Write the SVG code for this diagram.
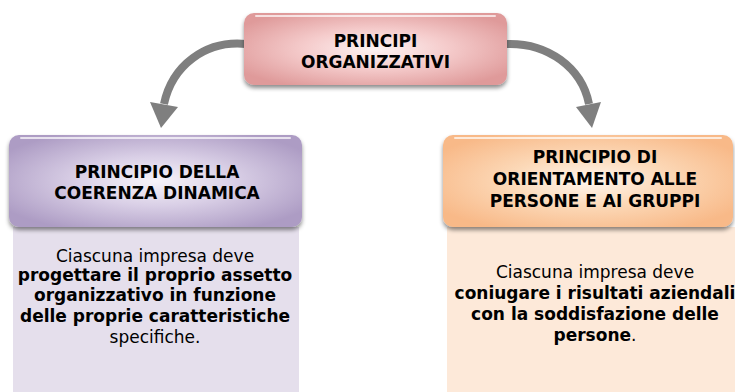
<svg xmlns="http://www.w3.org/2000/svg" width="735" height="392" viewBox="0 0 735 392">
<style>
.h{font-family:"DejaVu Sans","Verdana",sans-serif;font-weight:bold;font-size:17px;fill:#000;text-anchor:middle}
.t{font-family:"DejaVu Sans","Verdana",sans-serif;font-size:17px;fill:#000;text-anchor:middle}
.b{font-weight:bold}
.arr{fill:none;stroke:#7f7f7f;stroke-width:8}
.hl{fill:none;stroke:#ffffff;stroke-opacity:0.7;stroke-width:2;stroke-linecap:round}
</style>
<defs>
<radialGradient id="gPink" cx="0.5" cy="0.5" r="0.6">
<stop offset="0" stop-color="#fdf3f3"/><stop offset="0.45" stop-color="#f5cccc"/><stop offset="1" stop-color="#df9a9a"/>
</radialGradient>
<radialGradient id="gPurple" cx="0.5" cy="0.5" r="0.6">
<stop offset="0" stop-color="#f6f3f9"/><stop offset="0.45" stop-color="#d9cfe6"/><stop offset="1" stop-color="#ad9cc4"/>
</radialGradient>
<radialGradient id="gOrange" cx="0.5" cy="0.5" r="0.6">
<stop offset="0" stop-color="#fff6ee"/><stop offset="0.45" stop-color="#fcd9b8"/><stop offset="1" stop-color="#f8b988"/>
</radialGradient>
<filter id="sh" x="-10%" y="-10%" width="120%" height="130%">
<feDropShadow dx="0" dy="3" stdDeviation="2" flood-color="#000" flood-opacity="0.45"/>
</filter>
</defs>

<g id="connectors">
<path class="arr" d="M246 44 C205 40 172 66 164 104"/>
<polygon points="150,102 178,107 161,128" fill="#7f7f7f"/>
<path class="arr" d="M505 44 C548 42 582 68 589 104"/>
<polygon points="576,107 601,102 592,128" fill="#7f7f7f"/>
</g>

<g id="top">
<rect x="244" y="13" width="263" height="72" rx="10" fill="url(#gPink)" filter="url(#sh)"/>
<path class="hl" d="M256 16 H495"/>
<text class="h" x="375.5" y="47">PRINCIPI</text>
<text class="h" x="375.5" y="68">ORGANIZZATIVI</text>
</g>

<g id="left">
<rect x="13" y="227" width="286" height="165" fill="#e5dfec"/>
<rect x="9" y="135" width="293" height="92" rx="10" fill="url(#gPurple)" filter="url(#sh)"/>
<path class="hl" d="M21 138 H290"/>
<text class="h" x="157" y="178">PRINCIPIO DELLA</text>
<text class="h" x="157" y="199">COERENZA DINAMICA</text>
<text class="t" x="155" y="262">Ciascuna impresa deve</text>
<text class="t b" x="155" y="281">progettare il proprio assetto</text>
<text class="t b" x="155" y="301">organizzativo in funzione</text>
<text class="t b" x="155" y="322">delle proprie caratteristiche</text>
<text class="t" x="155" y="343">specifiche.</text>
</g>

<g id="right">
<rect x="447" y="227" width="288" height="165" fill="#fde9d9"/>
<rect x="443" y="135" width="290" height="92" rx="10" fill="url(#gOrange)" filter="url(#sh)"/>
<path class="hl" d="M455 138 H721"/>
<text class="h" x="595" y="163">PRINCIPIO DI</text>
<text class="h" x="595" y="185">ORIENTAMENTO ALLE</text>
<text class="h" x="595" y="207">PERSONE E AI GRUPPI</text>
<text class="t" x="595" y="278">Ciascuna impresa deve</text>
<text class="t b" x="595" y="299">coniugare i risultati aziendali</text>
<text class="t b" x="595" y="320">con la soddisfazione delle</text>
<text class="t" x="595" y="341"><tspan class="b">persone</tspan>.</text>
</g>
</svg>
